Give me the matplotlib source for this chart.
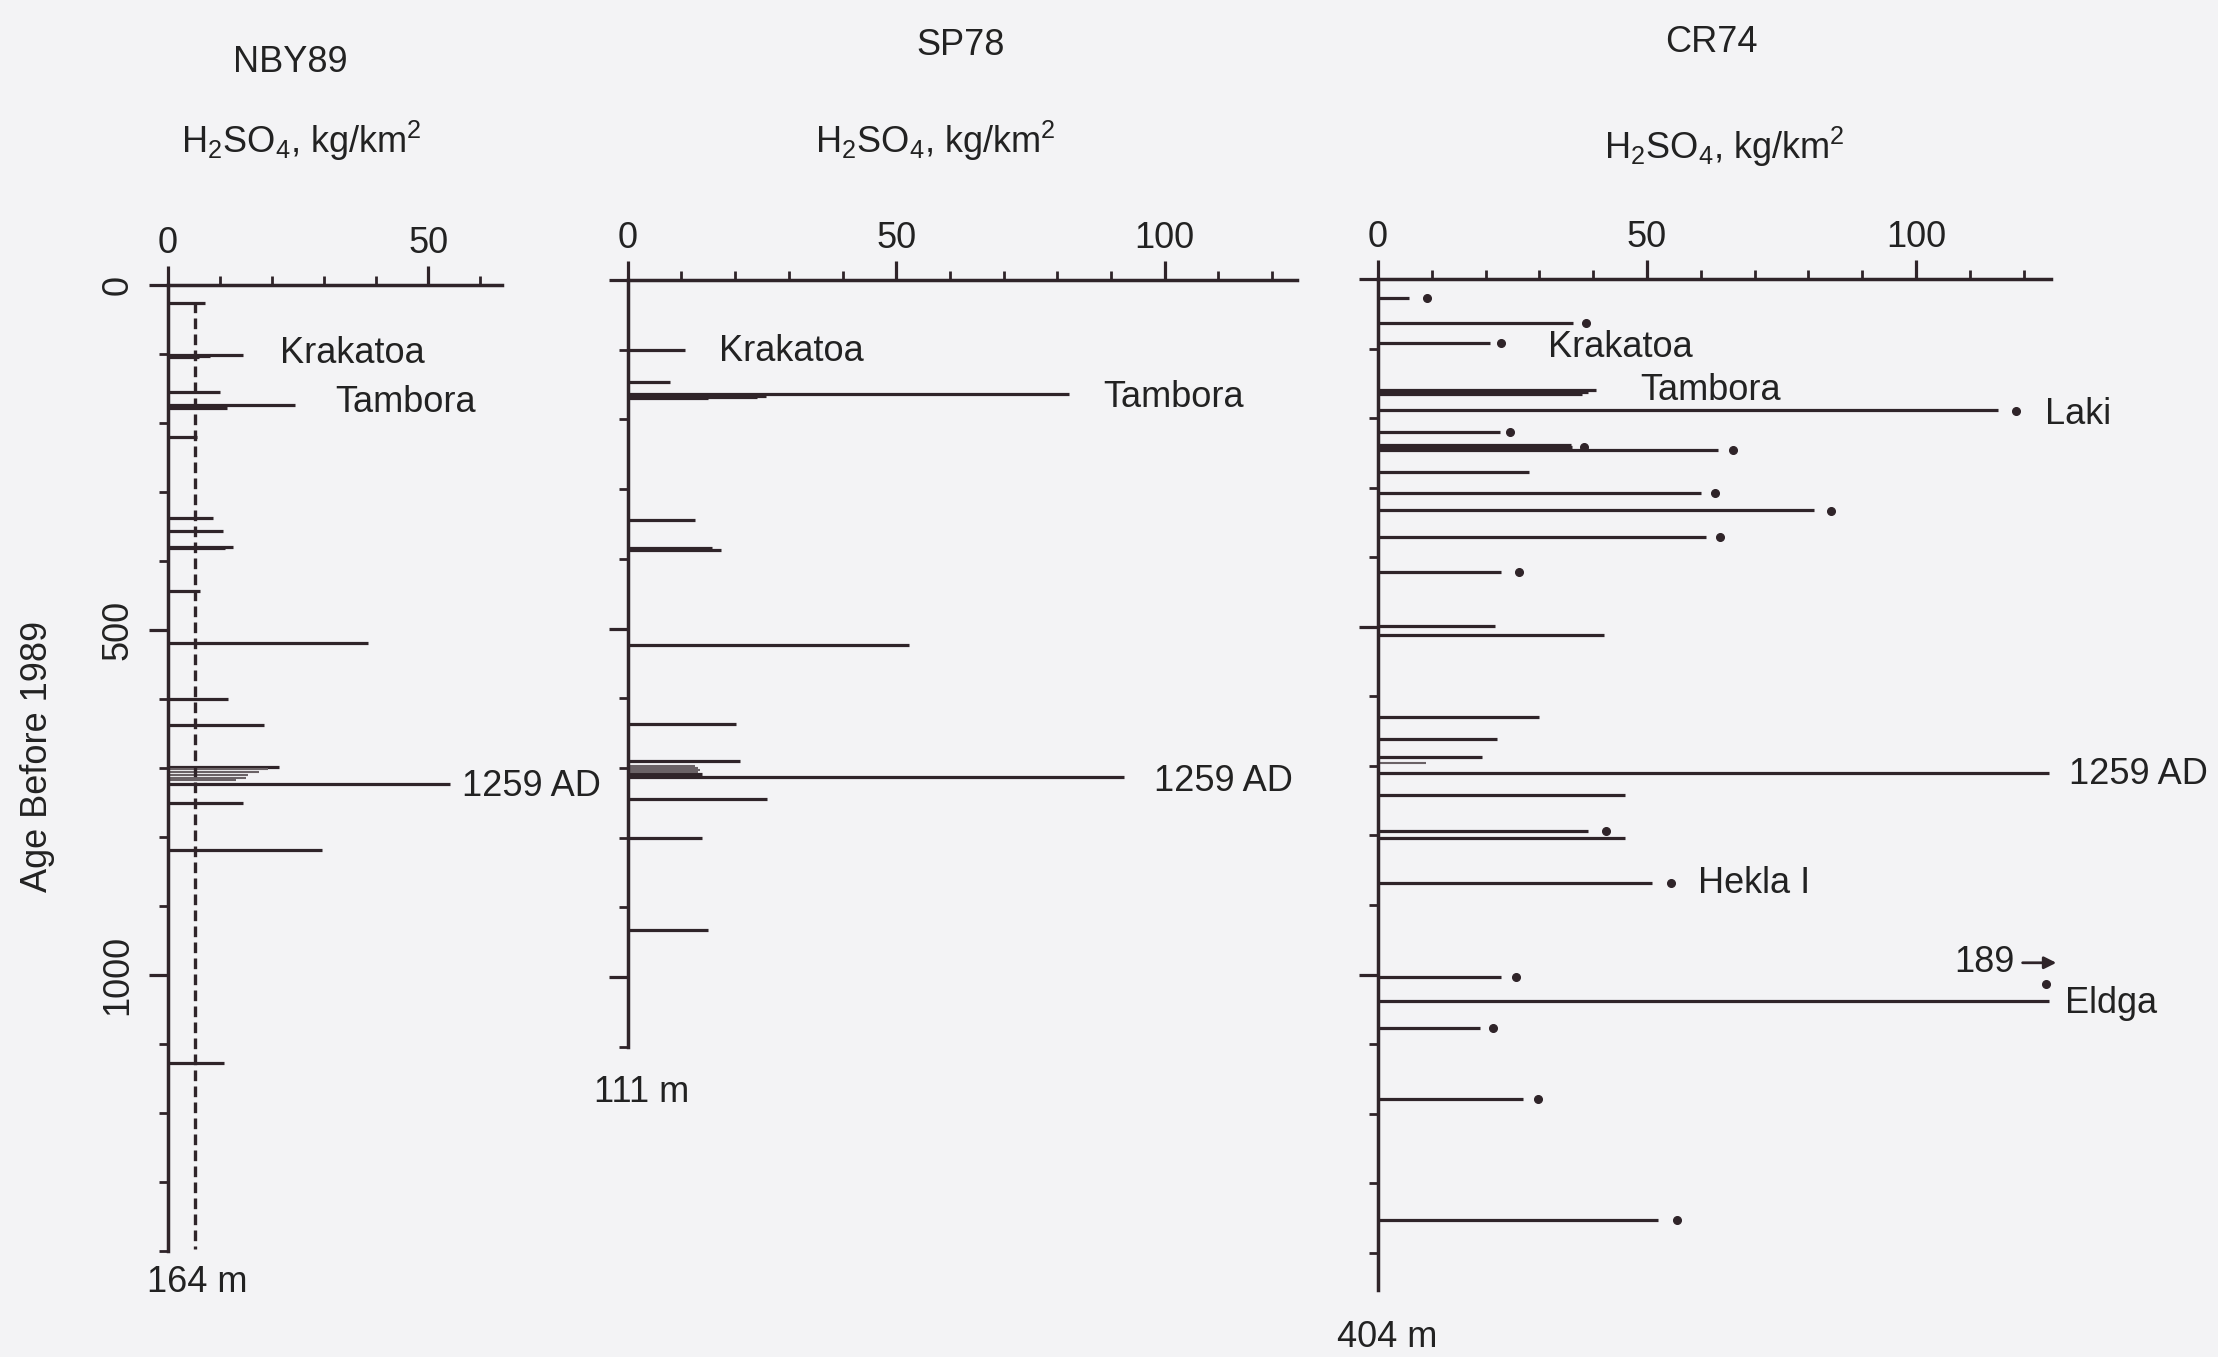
import numpy as np
import matplotlib
matplotlib.use('Agg')
import matplotlib.pyplot as plt

matplotlib.rcParams['font.family'] = 'Liberation Sans'
matplotlib.rcParams['mathtext.fontset'] = 'custom'
matplotlib.rcParams['mathtext.rm'] = 'Liberation Sans'

# --- data (age before 1989 in yr, H2SO4 in kg/km2) ---
nby_age = [26, 101, 103, 105, 155, 174, 178, 220, 338, 357, 379, 381, 444,
           519, 600, 638, 698, 723, 750, 819, 1127]
nby_val = [7.1, 14.4, 8, 6, 10, 24.4, 11.3, 5.5, 8.6, 10.5, 12.5, 11, 6.2,
           38.5, 11.5, 18.5, 21.4, 54.2, 14.4, 29.6, 10.8]
nby_fine_age = [702, 706, 710, 714, 718]
nby_fine_val = [19.3, 17.5, 15.4, 15, 13]
nby_thresh = 5.1

sp_age = [100, 146, 163, 166, 168, 170, 344, 385, 388, 524, 637, 690, 709,
          713, 745, 800, 932]
sp_val = [10.7, 7.9, 82.2, 25.8, 24, 15, 12.5, 15.6, 17.4, 52.4, 20.1, 20.9,
          13.8, 92.5, 26, 13.9, 14.9]
sp_fine_age = [697, 700, 703, 706]
sp_fine_val = [12.5, 13, 13.4, 13]

cr_age = [27.8, 63.7, 91.5, 160, 163, 166, 188, 219.5, 239, 242, 245.8, 277,
          308, 332, 370.4, 420.8, 498.9, 511.8, 629, 661.8, 687, 709.6, 741.8,
          793.8, 804.3, 869, 1003.3, 1037.7, 1076.5, 1178.3, 1353.2]
cr_val = [5.8, 36.3, 20.9, 40.5, 39, 38, 115.3, 22.7, 35.8, 36, 63.2, 28.1,
          60, 81, 61, 22.9, 21.8, 42.1, 30, 22.1, 19.3, 124.7, 46,
          39, 46, 50.9, 22.9, 124.7, 19, 26.9, 52.1]
cr_fine_age = [695.4]
cr_fine_val = [8.9]
cr_dot_age = [27.8, 63.7, 91.5, 190, 219.5, 241, 245.8, 308, 334, 370.4,
              420.8, 793.8, 869, 1003.3, 1014, 1076.5, 1178.3, 1353.2]
cr_dot_val = [9.2, 38.7, 22.9, 118.6, 24.6, 38.2, 66, 62.6, 84.2, 63.5,
              26.3, 42.3, 54.4, 25.6, 124.2, 21.4, 29.8, 55.5]

ink = '#2f2429'
grey = '#6a6266'
bg = '#f3f3f5'
txt = '#222'
fs = 26

W, H = 2218, 1357
fig = plt.figure(figsize=(W / 100, H / 100), dpi=100, facecolor=bg)


def px_axes(left, top, right, bottom):
    return fig.add_axes([left / W, 1 - bottom / H, (right - left) / W, (bottom - top) / H])


def style(ax, xmax, ymax, xmajor, ymajor_labels):
    ax.set_facecolor('none')
    ax.set_xlim(0, xmax)
    ax.set_ylim(ymax, 0)
    for s in ['right', 'bottom']:
        ax.spines[s].set_visible(False)
    for s in ['top', 'left']:
        ax.spines[s].set_linewidth(2.5)
        ax.spines[s].set_color(ink)
    ax.xaxis.tick_top()
    ax.set_xticks(xmajor)
    ax.set_xticks(np.arange(0, xmax, 10), minor=True)
    ax.set_yticks([0, 500, 1000])
    ax.set_yticks(np.arange(0, ymax + 1, 100), minor=True)
    ax.tick_params(which='major', direction='out', length=13.5, width=2.3, color=ink,
                   labelsize=fs, labelcolor=txt)
    ax.tick_params(which='minor', direction='out', length=6.5, width=2.0, color=ink)
    ax.tick_params(axis='x', pad=4)
    if ymajor_labels:
        ax.set_yticklabels(['0', '500', '1000'], rotation=90, va='center')
        ax.tick_params(axis='y', pad=10)
    else:
        ax.set_yticklabels([])


# NBY89
ax1 = px_axes(168, 285, 502, 1251)
style(ax1, 64.2, 1400, [0, 50], True)
ax1.hlines(nby_age, 0, nby_val, color=ink, lw=2.3)
ax1.hlines(nby_fine_age, 0, nby_fine_val, color=grey, lw=1.5)
ax1.plot([nby_thresh, nby_thresh], [25, 1397], color=ink, lw=2.4, ls=(0, (3.2, 1.6)))
ax1.text(23.5, -323, 'NBY89', fontsize=fs, ha='center', va='center', color=txt)
ax1.text(25.6, -209, r'H$_\mathregular{2}$SO$_\mathregular{4}$, kg/km$^\mathregular{2}$',
         fontsize=fs, ha='center', va='center', color=txt)
ax1.text(21.5, 98.6, 'Krakatoa', fontsize=fs, va='center', color=txt)
ax1.text(32.1, 169.6, 'Tambora', fontsize=fs, va='center', color=txt)
ax1.text(56.5, 727.5, '1259 AD', fontsize=fs, va='center', color=txt)
ax1.text(-4.0, 1446, '164 m', fontsize=fs, va='center', color=txt)

# SP78
ax2 = px_axes(627.8, 280, 1297.4, 1046.7)
style(ax2, 124.7, 1100, [0, 50, 100], False)
ax2.hlines(sp_age, 0, sp_val, color=ink, lw=2.3)
ax2.hlines(sp_fine_age, 0, sp_fine_val, color=grey, lw=1.5)
ax2.text(62, -337, 'SP78', fontsize=fs, ha='center', va='center', color=txt)
ax2.text(57.2, -199, r'H$_\mathregular{2}$SO$_\mathregular{4}$, kg/km$^\mathregular{2}$',
         fontsize=fs, ha='center', va='center', color=txt)
ax2.text(17, 103, 'Krakatoa', fontsize=fs, va='center', color=txt)
ax2.text(88.6, 169, 'Tambora', fontsize=fs, va='center', color=txt)
ax2.text(98, 720, '1259 AD', fontsize=fs, va='center', color=txt)
ax2.text(-6.3, 1166, '111 m', fontsize=fs, va='center', color=txt)

# CR74
ax3 = px_axes(1378, 279, 2050.5, 1289.7)
style(ax3, 125, 1453, [0, 50, 100], False)
ax3.set_yticks(np.arange(0, 1401, 100), minor=True)
ax3.hlines(cr_age, 0, cr_val, color=ink, lw=2.3)
ax3.hlines(cr_fine_age, 0, cr_fine_val, color=grey, lw=1.5)
ax3.plot(cr_dot_val, cr_dot_age, 'o', color=ink, ms=5.5, clip_on=False)
ax3.text(61.9, -340, 'CR74', fontsize=fs, ha='center', va='center', color=txt)
ax3.text(64.3, -190, r'H$_\mathregular{2}$SO$_\mathregular{4}$, kg/km$^\mathregular{2}$',
         fontsize=fs, ha='center', va='center', color=txt)
ax3.text(31.6, 99, 'Krakatoa', fontsize=fs, va='center', color=txt)
ax3.text(48.7, 161, 'Tambora', fontsize=fs, va='center', color=txt)
ax3.text(124, 195.5, 'Laki', fontsize=fs, va='center', color=txt)
ax3.text(128.4, 713, '1259 AD', fontsize=fs, va='center', color=txt)
ax3.text(59.5, 869.7, 'Hekla I', fontsize=fs, va='center', color=txt)
ax3.text(118.4, 983, '189', fontsize=fs, va='center', ha='right', color=txt)
ax3.annotate('', xy=(126.6, 983), xytext=(119.3, 983), annotation_clip=False,
             arrowprops=dict(arrowstyle='-|>', color=ink, lw=2.0, mutation_scale=18))
ax3.text(127.7, 1042, 'Eldga', fontsize=fs, va='center', color=txt)
ax3.text(-7.6, 1521, '404 m', fontsize=fs, va='center', color=txt)

fig.text(38 / W, 1 - 756 / H, 'Age Before 1989', rotation=90, fontsize=fs,
         ha='center', va='center', color=txt)

plt.savefig('out.png', dpi=100, facecolor=fig.get_facecolor())
